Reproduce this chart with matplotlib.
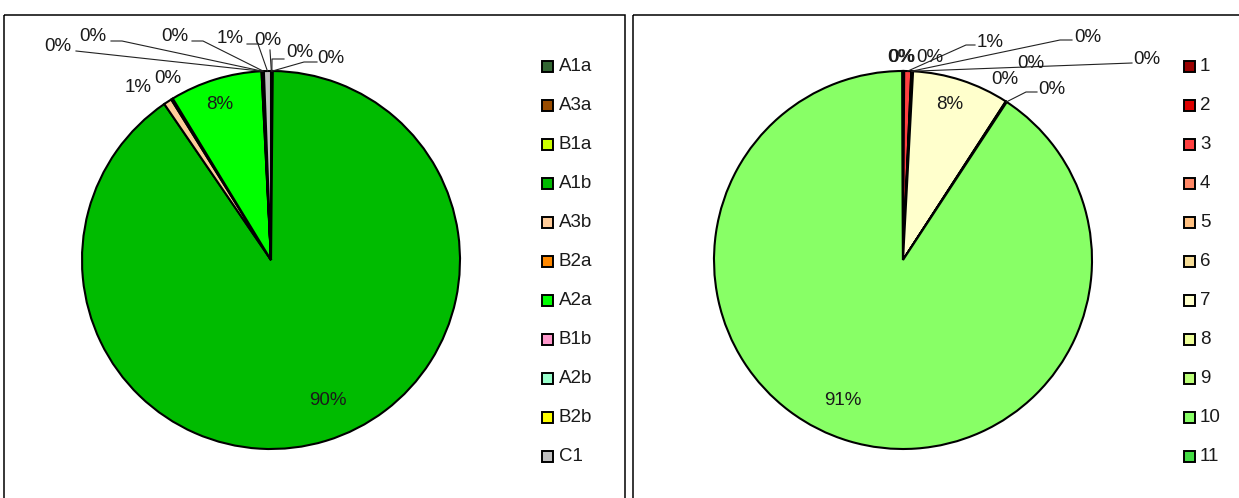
import numpy as np
import matplotlib
matplotlib.use("Agg")
import matplotlib.pyplot as plt
from matplotlib.patches import Rectangle

plt.rcParams['font.family'] = ['Liberation Sans', 'DejaVu Sans']

# ---------------- data ----------------
left_labels = ["A1a", "A3a", "B1a", "A1b", "A3b", "B2a", "A2a", "B1b", "A2b", "B2b", "C1"]
left_values = [0.05, 0.05, 0.05, 90.3, 0.7, 0.15, 7.9, 0.05, 0.05, 0.1, 0.6]
left_colors = ["#336633", "#994c00", "#ccff00", "#00bb00", "#ffcc99", "#ff8800",
               "#00ff00", "#ff99cc", "#99ffcc", "#ffff00", "#c0c0c0"]

right_labels = ["1", "2", "3", "4", "5", "6", "7", "8", "9", "10", "11"]
right_values = [0.05, 0.05, 0.6, 0.05, 0.05, 0.05, 8.3, 0.05, 0.05, 90.7, 0.05]
right_colors = ["#990000", "#dd0000", "#ff4040", "#ff8866", "#ffc080", "#f5dc96",
                "#ffffcc", "#eeff99", "#bbff77", "#88ff66", "#44dd44"]

# ---------------- layout (pixel space, y down) ----------------
W, H = 1239, 498
fig = plt.figure(figsize=(W / 100, H / 100), dpi=100)
ax = fig.add_axes([0, 0, 1, 1])

R = 189
FS = 13.5

# label layout: text position and optional leader anchor points (label side)
left_layout = [
    ((268, 40), [(270, 50)]),
    ((300, 52), [(284, 59), (272, 59)]),
    ((331, 58), [(317, 62), (304, 62)]),
    ((328, 400), None),
    ((138, 87), None),
    ((168, 78), None),
    ((220, 104), None),
    ((58, 46), [(76, 51)]),
    ((93, 36), [(111, 41), (122, 41)]),
    ((175, 36), [(192, 41), (203, 41)]),
    ((230, 38), [(247, 44), (258, 44)]),
]

right_layout = [
    ((900.5, 57), None),
    ((930, 57), None),
    ((990, 42), [(975, 45), (966, 45)]),
    ((1088, 37), [(1072, 40), (1060, 40)]),
    ((1147, 59), [(1132, 63)]),
    ((1031, 63), None),
    ((950, 104), None),
    ((1005, 79), None),
    ((1052, 89), [(1037, 92), (1026, 92)]),
    ((843, 400), None),
    ((901.5, 57), None),
]


def draw_pie(center, values, colors, layout):
    wedges, _ = ax.pie(values, colors=colors, startangle=-90, counterclock=True,
                       center=center, radius=R,
                       wedgeprops=dict(edgecolor="black", linewidth=1.5))
    total = sum(values)
    for w, v, (tpos, anchors) in zip(wedges, values, layout):
        pct = f"{v / total * 100:.0f}%"
        ax.text(tpos[0], tpos[1], pct, ha="center", va="center",
                fontsize=FS, color="#1a1a1a", zorder=5)
        if anchors:
            mid = np.deg2rad((w.theta1 + w.theta2) / 2)
            ex = center[0] + R * np.cos(mid)
            ey = center[1] + R * np.sin(mid)
            xs = [a[0] for a in anchors] + [ex]
            ys = [a[1] for a in anchors] + [ey]
            ax.plot(xs, ys, color="#222222", lw=0.8, zorder=4)
    return wedges


def draw_legend(x, labels, colors, pad):
    y0, dy = 66, 39
    for i, (lab, col) in enumerate(zip(labels, colors)):
        y = y0 + i * dy
        ax.add_patch(Rectangle((x, y - 5.5), 11, 11, facecolor=col,
                               edgecolor="black", lw=1.4, zorder=5))
        ax.text(x + pad, y, lab, ha="left", va="center", fontsize=FS,
                color="#1a1a1a", zorder=5)


draw_pie((271, 260), left_values, left_colors, left_layout)
draw_pie((903, 260), right_values, right_colors, right_layout)
draw_legend(542, left_labels, left_colors, 17)
draw_legend(1184, right_labels, right_colors, 16)

# panel frames
ax.add_patch(Rectangle((3.5, 14.5), 621, 520, fill=False, edgecolor="black", lw=1.1, zorder=6))
ax.add_patch(Rectangle((632.5, 14.5), 700, 520, fill=False, edgecolor="black", lw=1.1, zorder=6))

ax.set_xlim(0, W)
ax.set_ylim(H, 0)
ax.set_aspect("auto")
ax.axis("off")

fig.savefig("out.png", dpi=100)
